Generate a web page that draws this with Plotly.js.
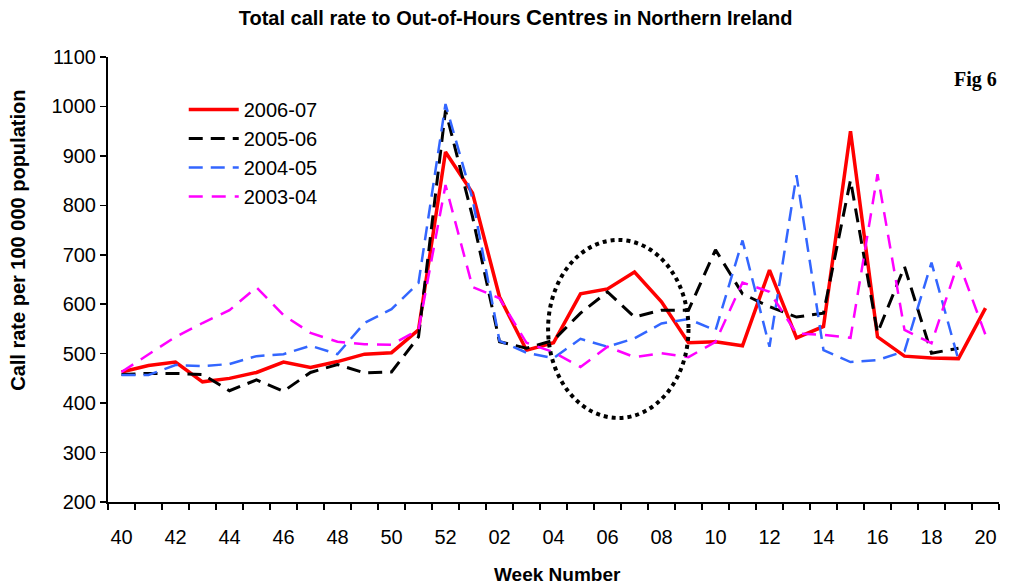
<!DOCTYPE html>
<html>
<head>
<meta charset="utf-8">
<script src="https://cdn.plot.ly/plotly-3.0.1.min.js"></script>
<style>
  html, body { margin: 0; padding: 0; background: #ffffff; }
  #chart { width: 1009px; height: 587px; }
</style>
</head>
<body>
<div id="chart"></div>
<script>
// Week numbers (winter season: week 40 to week 20 of following year)
const weeks = ["40","41","42","43","44","45","46","47","48","49","50","51","52",
  "01","02","03","04","05","06","07","08","09","10",
  "11","12","13","14","15","16","17","18","19","20"];

// Tick labels shown on every second week
const weekTickText = ["40","","42","","44","","46","","48","","50","","52",
  "","02","","04","","06","","08","","10",
  "","12","","14","","16","","18","","20"];

// Call rate per 100 000 population
const rate2006_07 = [463,476,483,443,450,462,483,472,484,499,502,548,908,
  825,615,507,522,621,631,665,605,522,524,
  516,669,532,555,950,534,495,491,490,592];

const rate2005_06 = [458,460,460,458,425,447,424,462,478,461,463,534,992,
  777,524,511,527,582,625,574,588,588,710,
  621,595,574,582,851,542,676,501,511,null];

const rate2004_05 = [457,457,477,475,479,495,499,516,499,562,590,643,1005,
  813,526,502,491,530,514,531,561,570,547,
  729,514,861,507,483,487,505,684,487,null];

const rate2003_04 = [463,498,534,562,588,634,578,542,524,519,518,548,841,
  635,612,522,503,473,514,493,501,493,524,
  644,625,541,538,532,863,548,521,686,538];

const seriesNames = ["2006-07","2005-06","2004-05","2003-04"];

const FONT = "Liberation Sans, Arial, sans-serif";

const traces = [
  { x: weeks, y: rate2006_07, name: seriesNames[0], type: "scatter", mode: "lines",
    line: { color: "#ff0000", width: 3.5 } },
  { x: weeks, y: rate2005_06, name: seriesNames[1], type: "scatter", mode: "lines",
    line: { color: "#000000", width: 3, dash: "14px,8px" } },
  { x: weeks, y: rate2004_05, name: seriesNames[2], type: "scatter", mode: "lines",
    line: { color: "#3366ff", width: 2.5, dash: "14px,8px" } },
  { x: weeks, y: rate2003_04, name: seriesNames[3], type: "scatter", mode: "lines",
    line: { color: "#ff00ff", width: 2.5, dash: "14px,9px" } }
];

const layout = {
  width: 1009, height: 587,
  paper_bgcolor: "#ffffff", plot_bgcolor: "#ffffff",
  margin: { l: 108, r: 10, t: 57, b: 85 },
  font: { family: FONT, color: "#000000", size: 19 },
  title: {
    text: "<b>Total call rate to Out-of-Hours <span style='font-size:22px'>Centres</span> in Northern Ireland</b>",
    font: { family: FONT, size: 20, color: "#000000" },
    x: 0.511, xanchor: "center", y: 0.969, yanchor: "middle"
  },
  showlegend: true,
  legend: {
    x: 0.085, y: 0.926, xanchor: "left", yanchor: "top",
    bgcolor: "rgba(0,0,0,0)", borderwidth: 0,
    font: { family: FONT, size: 20, color: "#000000" },
    tracegroupgap: 0, itemwidth: 50
  },
  xaxis: {
    type: "category",
    categoryorder: "array", categoryarray: weeks,
    range: [-0.5, 32.5], autorange: false,
    tickmode: "array", tickvals: weeks, ticktext: weekTickText,
    tickson: "boundaries", tickangle: 0, ticklabelstandoff: 16,
    ticks: "outside", ticklen: 6, tickwidth: 1.5, tickcolor: "#000000",
    showline: true, linewidth: 2, linecolor: "#000000",
    showgrid: false, zeroline: false,
    tickfont: { family: FONT, size: 20, color: "#000000" }
  },
  yaxis: {
    range: [200, 1100], autorange: false, dtick: 100, tick0: 200,
    ticks: "outside", ticklen: 6, tickwidth: 1.5, tickcolor: "#000000",
    showline: true, linewidth: 2, linecolor: "#000000",
    showgrid: false, zeroline: false,
    tickfont: { family: FONT, size: 20, color: "#000000" }
  },
  shapes: [
    { type: "circle", xref: "x", yref: "y",
      x0: 15.8, x1: 21.0, y0: 370, y1: 730,
      line: { color: "#000000", width: 4, dash: "dot" }, fillcolor: "rgba(0,0,0,0)" }
  ],
  annotations: [
    { text: "<b>Fig 6</b>", xref: "paper", yref: "paper", x: 1.0, y: 0.95,
      xanchor: "right", yanchor: "middle", showarrow: false,
      font: { family: "Liberation Serif, Times New Roman, serif", size: 20, color: "#000000" } },
    { text: "<b>Call rate per 100 000 population</b>", xref: "paper", yref: "paper",
      x: -0.101, y: 0.587, xanchor: "center", yanchor: "middle", textangle: -90, showarrow: false,
      font: { family: FONT, size: 20, color: "#000000" } },
    { text: "<b>Week Number</b>", xref: "paper", yref: "paper",
      x: 0.505, y: -0.163, xanchor: "center", yanchor: "middle", showarrow: false,
      font: { family: FONT, size: 19, color: "#000000" } }
  ]
};

Plotly.newPlot("chart", traces, layout, { displayModeBar: false, staticPlot: true });
</script>
</body>
</html>
